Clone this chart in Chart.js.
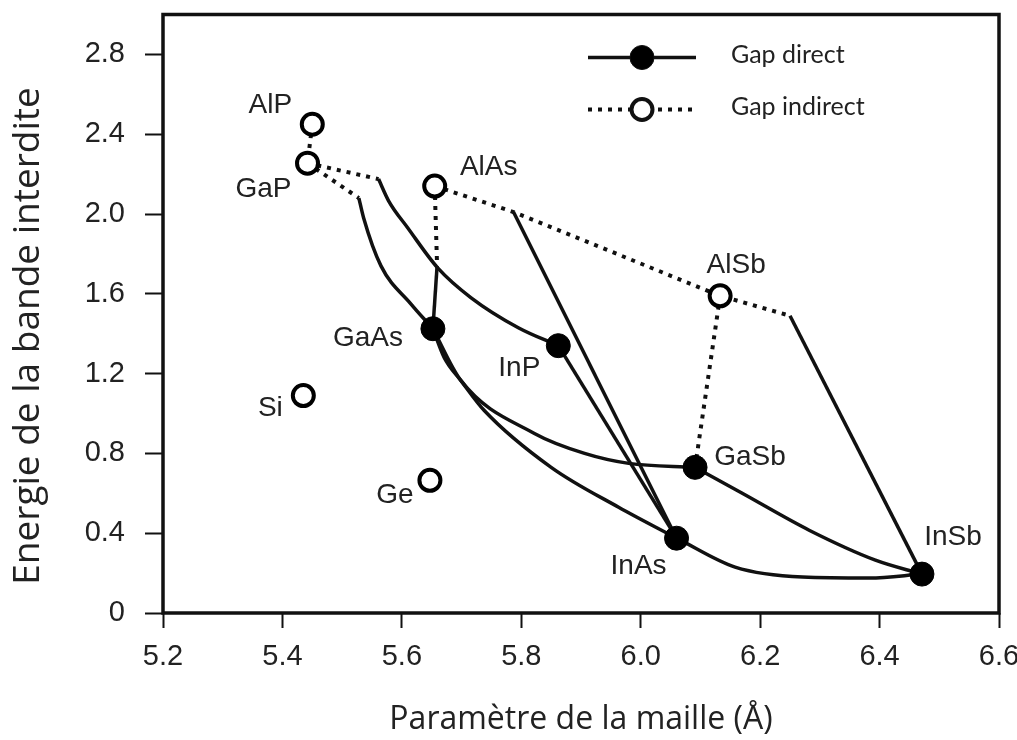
<!DOCTYPE html>
<html lang="fr">
<head>
<meta charset="utf-8">
<title>Energie de la bande interdite</title>
<script src="https://cdn.jsdelivr.net/npm/chart.js@4.4.1/dist/chart.umd.min.js"></script>
<style>
  html, body { margin: 0; padding: 0; background: #fff; }
  #wrap { width: 1017px; height: 740px; }
</style>
</head>
<body>
<div id="wrap"><canvas id="gap-chart" width="1017" height="740"></canvas></div>
<script>
// Composés binaires : paramètre de maille (Å), gap (eV)
const directNames = ['GaAs', 'InP', 'GaSb', 'InAs', 'InSb'];
const directA = [5.652, 5.862, 6.091, 6.06, 6.471];
const directEg = [1.425, 1.34, 0.73, 0.375, 0.195];

const indirectNames = ['AlP', 'GaP', 'AlAs', 'Si', 'Ge', 'AlSb'];
const indirectA = [5.45, 5.442, 5.655, 5.435, 5.647, 6.133];
const indirectEg = [2.45, 2.255, 2.14, 1.09, 0.665, 1.59];

// Alliages : tronçons à gap indirect (pointillés)
const alpGap = [[5.45, 2.45], [5.442, 2.255]];
const gapInpInd = [[5.442, 2.255], [5.561, 2.175]];
const gapGaasInd = [[5.442, 2.255], [5.528, 2.08]];
const alasGaasInd = [[5.655, 2.14], [5.659, 1.74]];
const alasAlsbInd = [[5.655, 2.14], [5.787, 2.01], [6.133, 1.59], [6.25, 1.49]];
const alsbGasbInd = [[6.133, 1.59], [6.091, 0.73]];

// Alliages : tronçons à gap direct (traits pleins)
const gapInpDir = [[5.561, 2.175], [5.578, 2.065], [5.61, 1.93], [5.66, 1.73], [5.716, 1.58], [5.795, 1.43], [5.862, 1.34]];
const gapGaasDir = [[5.528, 2.08], [5.536, 1.98], [5.565, 1.74], [5.615, 1.55], [5.652, 1.425]];
const alasGaasDir = [[5.659, 1.74], [5.652, 1.425]];
const alasInasDir = [[5.787, 2.01], [6.06, 0.375]];
const alsbInsbDir = [[6.25, 1.49], [6.471, 0.195]];
const inpInas = [[5.862, 1.34], [6.06, 0.375]];
const gaasGasb = [[5.652, 1.425], [5.699, 1.165], [5.822, 0.9], [5.906, 0.8], [5.98, 0.75], [6.091, 0.73]];
const gaasInas = [[5.652, 1.425], [5.671, 1.28], [5.699, 1.165], [5.738, 1.015], [5.85, 0.73], [5.963, 0.53], [6.06, 0.375]];
const inasInsb = [[6.06, 0.375], [6.158, 0.23], [6.271, 0.18], [6.383, 0.175], [6.471, 0.195]];
const gasbInsb = [[6.091, 0.73], [6.17, 0.6], [6.282, 0.415], [6.393, 0.265], [6.471, 0.195]];

const xTicks = [5.2, 5.4, 5.6, 5.8, 6.0, 6.2, 6.4, 6.6];
const xTickLabels = ['5.2', '5.4', '5.6', '5.8', '6.0', '6.2', '6.4', '6.6'];
const yTicks = [0, 0.4, 0.8, 1.2, 1.6, 2.0, 2.4, 2.8];
const yTickLabels = ['0', '0.4', '0.8', '1.2', '1.6', '2.0', '2.4', '2.8'];

// décalage (px) de chaque nom par rapport à son marqueur
const labelOffsets = {
  AlP: [-42, -19], GaP: [-44, 26], AlAs: [54, -19], Si: [-33, 13], Ge: [-35, 15], AlSb: [16, -31],
  GaAs: [-65, 10], InP: [-39, 23], GaSb: [55, -10], InAs: [-38, 28], InSb: [31, -37]
};

const INK = '#111';
const tickFont = { family: '"Liberation Sans", Arial, sans-serif', size: 29 };

const toXY = (pts) => pts.map(([x, y]) => ({ x, y }));

const solidLine = (pts) => ({
  data: toXY(pts),
  showLine: true,
  borderColor: INK,
  borderWidth: 3.5,
  pointRadius: 0,
  cubicInterpolationMode: pts.length > 2 ? 'monotone' : 'default',
  order: 2,
});

const dottedLine = (pts) => ({
  data: toXY(pts),
  showLine: true,
  borderColor: INK,
  borderWidth: 4,
  borderDash: [4, 6],
  pointRadius: 0,
  tension: 0,
  order: 2,
});

const datasets = [
  {
    label: 'Gap direct',
    data: directA.map((a, i) => ({ x: a, y: directEg[i] })),
    pointRadius: 12,
    pointBackgroundColor: '#000',
    pointBorderColor: '#000',
    pointBorderWidth: 1,
    showLine: false,
    order: 0,
  },
  {
    label: 'Gap indirect',
    data: indirectA.map((a, i) => ({ x: a, y: indirectEg[i] })),
    pointRadius: 10.5,
    pointBackgroundColor: '#fff',
    pointBorderColor: '#000',
    pointBorderWidth: 4,
    showLine: false,
    order: 0,
  },
  ...[alpGap, gapInpInd, gapGaasInd, alasGaasInd, alasAlsbInd, alsbGasbInd].map(dottedLine),
  ...[gapInpDir, gapGaasDir, alasGaasDir, alasInasDir, alsbInsbDir, inpInas,
      gaasGasb, gaasInas, inasInsb, gasbInsb].map(solidLine),
];

// pas de marge automatique autour de la zone de tracé
const noScalePadding = (scale) => {
  scale.paddingTop = 0;
  scale.paddingBottom = 0;
  scale.paddingLeft = 0;
  scale.paddingRight = 0;
};

// cadre, noms des composés, titre vertical et légende
const decorations = {
  id: 'decorations',
  afterDatasetsDraw(chart) {
    const { ctx, chartArea: a, scales: { x, y } } = chart;
    ctx.save();

    ctx.lineWidth = 3.5;
    ctx.strokeStyle = INK;
    ctx.strokeRect(a.left, a.top, a.right - a.left, a.bottom - a.top);

    ctx.font = '28px "Liberation Sans", Arial, sans-serif';
    ctx.fillStyle = '#222';
    ctx.textAlign = 'center';
    ctx.textBaseline = 'middle';
    const put = (names, xs, ys) => names.forEach((n, i) => {
      const [dx, dy] = labelOffsets[n];
      ctx.fillText(n, x.getPixelForValue(xs[i]) + dx, y.getPixelForValue(ys[i]) + dy);
    });
    put(directNames, directA, directEg);
    put(indirectNames, indirectA, indirectEg);

    // titre de l'axe vertical
    ctx.save();
    ctx.translate(28, 336);
    ctx.rotate(-Math.PI / 2);
    ctx.font = '37px "Open Sans", sans-serif';
    ctx.fillStyle = '#222';
    ctx.fillText('Energie de la bande interdite', 0, 0);
    ctx.restore();

    // légende
    const lx0 = a.right - 411, lx1 = a.right - 303, cx = a.right - 357;
    const rows = [
      { yy: a.top + 43, text: 'Gap direct', dash: [], fill: '#000', r: 12 },
      { yy: a.top + 95, text: 'Gap indirect', dash: [4, 6], fill: '#fff', r: 10.5 },
    ];
    rows.forEach((row) => {
      ctx.beginPath();
      ctx.setLineDash(row.dash);
      ctx.lineWidth = row.dash.length ? 4 : 3.5;
      ctx.moveTo(lx0, row.yy);
      ctx.lineTo(lx1, row.yy);
      ctx.stroke();
      ctx.setLineDash([]);
      ctx.beginPath();
      ctx.arc(cx, row.yy, row.r, 0, Math.PI * 2);
      ctx.fillStyle = row.fill;
      ctx.fill();
      ctx.lineWidth = row.dash.length ? 4 : 1;
      ctx.stroke();
      ctx.font = '25px Lato, sans-serif';
      ctx.fillStyle = '#222';
      ctx.textAlign = 'left';
      ctx.fillText(row.text, a.right - 268, row.yy - 3);
    });

    ctx.restore();
  },
};

new Chart(document.getElementById('gap-chart'), {
  type: 'scatter',
  data: { datasets },
  options: {
    responsive: false,
    animation: false,
    layout: { padding: { top: 14, right: 18, left: 0, bottom: 0 } },
    plugins: { legend: { display: false }, tooltip: { enabled: false } },
    scales: {
      x: {
        type: 'linear',
        min: 5.2,
        max: 6.6,
        afterFit: (scale) => { scale.height = 127; noScalePadding(scale); },
        afterBuildTicks: (scale) => { scale.ticks = xTicks.map((v) => ({ value: v })); },
        border: { display: false },
        grid: { display: true, drawOnChartArea: false, drawTicks: true, tickLength: 15, tickWidth: 2, tickColor: INK },
        ticks: {
          padding: 12,
          color: '#222',
          font: tickFont,
          maxRotation: 0,
          callback: (v) => xTickLabels[xTicks.indexOf(Math.round(v * 10) / 10)],
        },
        title: {
          display: true,
          text: 'Paramètre de la maille (Å)',
          color: '#222',
          font: { family: '"Open Sans", sans-serif', size: 32 },
          padding: { top: 0, bottom: 1 },
        },
      },
      y: {
        type: 'linear',
        min: 0,
        max: 3.0,
        afterFit: (scale) => { scale.width = 163; noScalePadding(scale); },
        afterBuildTicks: (scale) => { scale.ticks = yTicks.map((v) => ({ value: v })); },
        border: { display: false },
        grid: { display: true, drawOnChartArea: false, drawTicks: true, tickLength: 18, tickWidth: 2, tickColor: INK },
        ticks: {
          padding: 20,
          color: '#222',
          font: tickFont,
          callback: (v) => yTickLabels[yTicks.indexOf(Math.round(v * 10) / 10)],
        },
      },
    },
  },
  plugins: [decorations],
});
</script>
</body>
</html>
